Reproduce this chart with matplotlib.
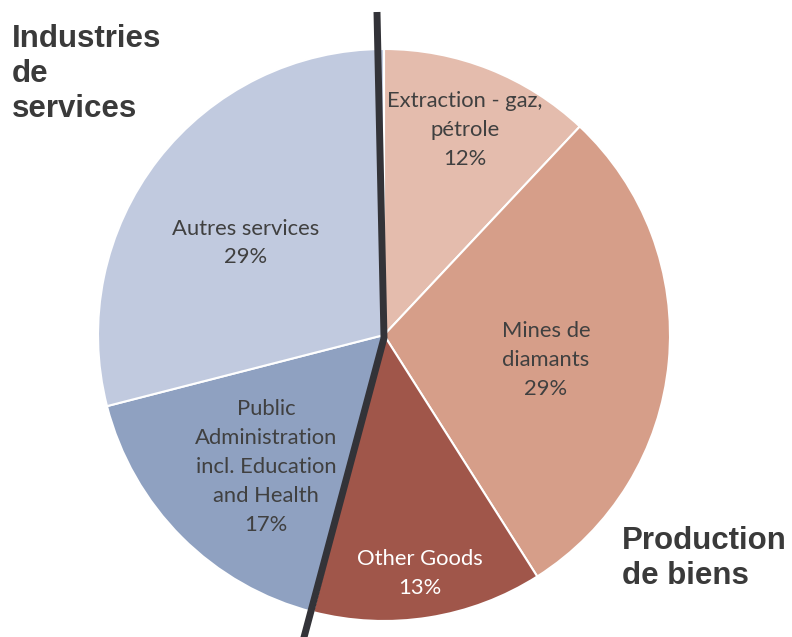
import numpy as np
import matplotlib.pyplot as plt

labels = ["Extraction - gaz,\npétrole", "Mines de\ndiamants", "Other Goods",
          "Public\nAdministration\nincl. Education\nand Health", "Autres services"]
shares = [12, 29, 13, 17, 29]
colors = ["#E4BCAD", "#D69E89", "#A0564A", "#8FA1C1", "#C1CADF"]
text_colors = ["#404040", "#404040", "#FFFFFF", "#404040", "#404040"]
# label placement: radial fraction and angle nudge (degrees)
label_dist = [0.77, 0.573, 0.842, 0.619, 0.58]
label_shift = [0, -3.4, -0.4, 3.2, 4.1]

W, H = 792, 637
cx, cy, R = 384, H - 335, 286

fig = plt.figure(figsize=(W / 100, H / 100), dpi=100)
ax = fig.add_axes([0, 0, 1, 1])

wedges, _ = ax.pie(shares, colors=colors, startangle=90, counterclock=False,
                   center=(cx, cy), radius=R,
                   wedgeprops=dict(edgecolor="white", linewidth=1.5))

ax.set_xlim(0, W)
ax.set_ylim(0, H)
ax.set_aspect("equal")
ax.axis("off")

for w, lab, v, tc, d, s in zip(wedges, labels, shares, text_colors, label_dist, label_shift):
    mid = np.deg2rad((w.theta1 + w.theta2) / 2 + s)
    x = cx + d * R * np.cos(mid)
    y = cy + d * R * np.sin(mid)
    ax.text(x, y, f"{lab}\n{v}%", ha="center", va="center", fontsize=15.8,
            family="Lato", color=tc, linespacing=1.55)

# separating line between goods and services
ax.plot([377, 384, 303], [H - 12, H - 338, -4], color="#333338", lw=5,
        solid_capstyle="butt", solid_joinstyle="miter", clip_on=False)

ax.text(12, H - 24, "Industries\nde\nservices", ha="left", va="top",
        fontsize=22.5, fontweight="bold", family="Liberation Sans",
        color="#3A3A3A", linespacing=1.22)
ax.text(622, H - 526, "Production\nde biens", ha="left", va="top",
        fontsize=22.5, fontweight="bold", family="Liberation Sans",
        color="#3A3A3A", linespacing=1.22)

fig.savefig("out.png", dpi=100)
